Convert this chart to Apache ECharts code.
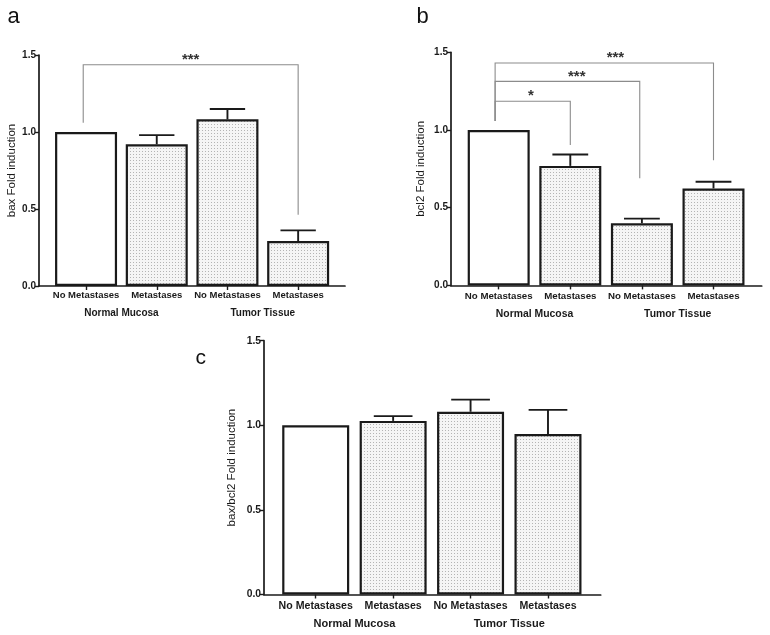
<!DOCTYPE html>
<html>
<head>
<meta charset="utf-8">
<script src="https://cdn.jsdelivr.net/npm/echarts@6/dist/echarts.min.js"></script>
<style>html,body{margin:0;padding:0;background:#fff}#chart{width:770px;height:635px}</style>
</head>
<body>
<div id="chart"></div>
<script>
// --- data ---
var categories = ['No Metastases', 'Metastases', 'No Metastases', 'Metastases'];
var groups = ['Normal Mucosa', 'Tumor Tissue'];
var yTicks = [0, 0.5, 1.0, 1.5];

var baxMean = [1.0, 0.92, 1.082, 0.292];
var baxErr = [0, 0.06, 0.067, 0.069];
var bcl2Mean = [1.0, 0.769, 0.40, 0.624];
var bcl2Err = [0, 0.073, 0.03, 0.043];
var ratioMean = [1.0, 1.026, 1.08, 0.948];
var ratioErr = [0, 0.028, 0.072, 0.143];

// significance brackets: from/to bar index, level, end of each leg, star text, label position
var baxBrackets = [
  { from: -0.04, to: 3, y: 1.437, fromEnd: 1.06, toEnd: 0.463, text: '***', at: 1.48 }
];
var bcl2Brackets = [
  { from: -0.05, to: 3, y: 1.431, fromEnd: 1.058, toEnd: 0.806, text: '***', at: 1.63 },
  { from: -0.05, to: 1.97, y: 1.313, fromEnd: 1.058, toEnd: 0.69, text: '***', at: 1.09 },
  { from: -0.05, to: 1, y: 1.185, fromEnd: 1.058, toEnd: 0.904, text: '*', at: 0.45 }
];
var ratioBrackets = [];

var ink = '#1a1a1a';
var font = '"Liberation Sans", Arial, sans-serif';

// dotted fill like the GraphPad pattern
var pat = document.createElement('canvas');
pat.width = 3; pat.height = 3;
var pg = pat.getContext('2d');
pg.fillStyle = '#f5f5f5'; pg.fillRect(0, 0, 3, 3);
pg.fillStyle = '#b4b4b4'; pg.fillRect(1, 1, 1, 1);
var dotted = { image: pat, repeat: 'repeat' };

var option = { animation: false, backgroundColor: '#fff', grid: [], xAxis: [], yAxis: [], series: [], graphic: [] };

function xAt(api, pos) {
  var c0 = api.coord([0, 0])[0], c1 = api.coord([1, 0])[0];
  return c0 + pos * (c1 - c0);
}

function addPanel(p, means, errs, brackets, yName) {
  var gi = option.grid.length, xi = option.xAxis.length, yi = option.yAxis.length;
  option.grid.push({ left: p.axisLeft, top: p.top, width: p.axisWidth, height: p.height });
  option.grid.push({ left: p.barLeft, top: p.top, width: p.barArea, height: p.height });

  option.xAxis.push({ type: 'value', gridIndex: gi, min: 0, max: 1,
    axisLine: { show: true, lineStyle: { color: ink, width: 1.7 } },
    axisTick: { show: false }, axisLabel: { show: false }, splitLine: { show: false } });
  option.xAxis.push({ type: 'category', gridIndex: gi + 1, data: categories,
    axisLine: { show: false },
    axisTick: { show: true, alignWithLabel: true, length: 4, lineStyle: { color: ink, width: 1.4 } },
    axisLabel: { interval: 0, color: ink, fontWeight: 'bold', fontSize: p.catSize, fontFamily: font, margin: p.catMargin } });
  option.xAxis.push({ type: 'category', gridIndex: gi + 1, data: groups, position: 'bottom', offset: p.groupOffset,
    axisLine: { show: false }, axisTick: { show: false },
    axisLabel: { interval: 0, color: ink, fontWeight: 'bold', fontSize: p.groupSize, fontFamily: font, margin: 0 } });

  option.yAxis.push({ type: 'value', gridIndex: gi, min: yTicks[0], max: yTicks[yTicks.length - 1], interval: yTicks[1] - yTicks[0],
    name: yName, nameLocation: 'middle', nameGap: p.nameGap,
    nameTextStyle: { color: ink, fontSize: p.nameSize, fontFamily: font },
    axisLine: { show: true, lineStyle: { color: ink, width: 1.7 } },
    axisTick: { show: true, length: 4, lineStyle: { color: ink, width: 1.4 } },
    axisLabel: { color: ink, fontWeight: 'bold', fontSize: p.tickSize, fontFamily: font, margin: 3,
      formatter: function (v) { return v.toFixed(1); } },
    splitLine: { show: false } });
  option.yAxis.push({ type: 'value', gridIndex: gi + 1, min: yTicks[0], max: yTicks[yTicks.length - 1], show: false });

  option.series.push({ type: 'bar', xAxisIndex: xi + 1, yAxisIndex: yi + 1, barWidth: p.bw, z: 3,
    itemStyle: { borderColor: ink, borderWidth: 2.2 },
    data: means.map(function (v, i) { return { value: v, itemStyle: { color: i === 0 ? '#fff' : dotted } }; }) });

  option.series.push({ type: 'custom', xAxisIndex: xi + 1, yAxisIndex: yi + 1, z: 4, clip: false,
    encode: { x: 0, y: 1 },
    data: means.map(function (v, i) { return [i, v, errs[i]]; }),
    renderItem: function (params, api) {
      var i = api.value(0), m = api.value(1), e = api.value(2);
      if (!e) return;
      var base = api.coord([i, m]), top = api.coord([i, m + e]);
      var half = api.size([1, 0])[0] * 0.25;
      var st = { stroke: ink, lineWidth: 1.9 };
      return { type: 'group', children: [
        { type: 'line', shape: { x1: base[0], y1: base[1], x2: top[0], y2: top[1] }, style: st },
        { type: 'line', shape: { x1: top[0] - half, y1: top[1], x2: top[0] + half, y2: top[1] }, style: st }
      ] };
    } });

  if (brackets.length) {
    option.series.push({ type: 'custom', xAxisIndex: xi + 1, yAxisIndex: yi + 1, z: 2, clip: false,
      encode: { x: 0, y: 1 },
      data: brackets.map(function (b, k) { return [0, b.y, k]; }),
      renderItem: function (params, api) {
        var b = brackets[api.value(2)];
        var yL = api.coord([0, b.y])[1], yA = api.coord([0, b.fromEnd])[1], yB = api.coord([0, b.toEnd])[1];
        var xA = xAt(api, b.from), xB = xAt(api, b.to), xT = xAt(api, b.at);
        return { type: 'group', children: [
          { type: 'polyline', shape: { points: [[xA, yA], [xA, yL], [xB, yL], [xB, yB]] },
            style: { stroke: '#8c8c8c', lineWidth: 1.1, fill: null } },
          { type: 'text', x: xT, y: yL + 2.5,
            style: { text: b.text, fill: '#333', fontSize: 15, fontWeight: 'bold', fontFamily: font, align: 'center', verticalAlign: 'bottom' } }
        ] };
      } });
  }

  option.graphic.push({ type: 'text', x: p.letterX, y: p.letterY,
    style: { text: p.letter, fontSize: p.letterSize, fill: '#111', fontFamily: font, verticalAlign: 'middle' } });
}

addPanel({ axisLeft: 39, axisWidth: 306, barLeft: 50.7, barArea: 282.8, top: 55, height: 231,
  catSize: 9.5, catMargin: 4, groupSize: 10, groupOffset: 22, tickSize: 10, nameSize: 11.5, nameGap: 21, bw: 62,
  letter: 'a', letterX: 7.5, letterY: 17, letterSize: 22 }, baxMean, baxErr, baxBrackets, 'bax Fold induction');

addPanel({ axisLeft: 451, axisWidth: 310.7, barLeft: 462.9, barArea: 286.4, top: 52.3, height: 233.1,
  catSize: 9.7, catMargin: 6, groupSize: 10.4, groupOffset: 24, tickSize: 10, nameSize: 11.5, nameGap: 24, bw: 62,
  letter: 'b', letterX: 416.5, letterY: 17, letterSize: 22 }, bcl2Mean, bcl2Err, bcl2Brackets, 'bcl2 Fold induction');

addPanel({ axisLeft: 264, axisWidth: 336.7, barLeft: 277, barArea: 309.7, top: 340.7, height: 253.8,
  catSize: 10.6, catMargin: 6, groupSize: 11, groupOffset: 24, tickSize: 10.3, nameSize: 11.5, nameGap: 26, bw: 67,
  letter: 'c', letterX: 195.5, letterY: 358, letterSize: 21 }, ratioMean, ratioErr, ratioBrackets, 'bax/bcl2 Fold induction');

var chart = echarts.init(document.getElementById('chart'), null, { renderer: 'canvas' });
chart.setOption(option);
</script>
</body>
</html>
